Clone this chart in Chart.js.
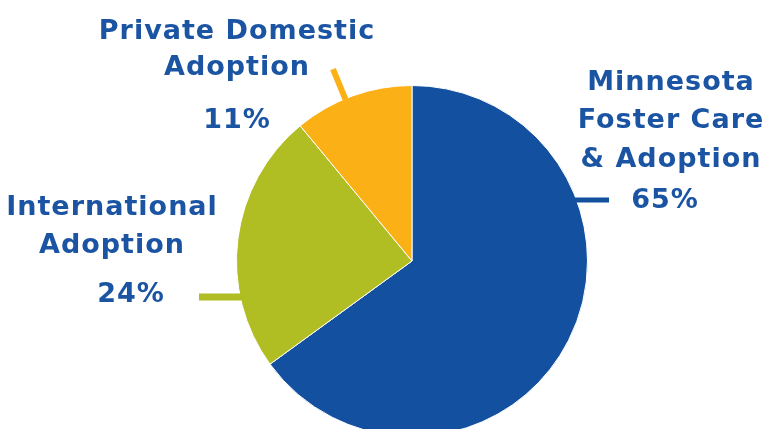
<!DOCTYPE html>
<html>
<head>
<meta charset="utf-8">
<script src="https://cdn.jsdelivr.net/npm/chart.js@4/dist/chart.umd.min.js"></script>
<style>
  html, body { margin: 0; padding: 0; background: #fff; overflow: hidden; }
  #wrap { width: 769px; height: 440px; }
</style>
</head>
<body>
<div id="wrap"><canvas id="pie" width="769" height="440"></canvas></div>
<script>
// dados do gráfico
const categorias = [
    ['Minnesota', 'Foster Care', '& Adoption'],
    ['International', 'Adoption'],
    ['Private Domestic', 'Adoption']
];
const valores = [65, 24, 11];
const rotulosPct = ['65%', '24%', '11%'];
const cores = ['#1351a0', '#b0bd23', '#fbb116'];

const corTexto = '#1a54a2';
const fonteRotulo = 'bold 27px "DejaVu Sans"';

// posição dos rótulos em relação ao centro da pizza
const layoutRotulos = [
    { dx: 259, linhas: [-171, -133, -94], pctDx: 253, pctDy: -53 },
    { dx: -300, linhas: [-46, -8], pctDx: -281, pctDy: 41 },
    { dx: -175, linhas: [-222, -186], pctDx: -175, pctDy: -133 }
];

// Plugin para desenhar rótulos e linhas de chamada
const rotulosPlugin = {
    id: 'rotulos',
    afterDraw(chart) {
        const ctx = chart.ctx;
        const meta = chart.getDatasetMeta(0);
        const arco0 = meta.data[0];
        const cx = arco0.x, cy = arco0.y, r = arco0.outerRadius;

        ctx.save();
        ctx.lineCap = 'butt';

        // linha azul (horizontal, à direita)
        let y = cy - 61;
        let xBorda = cx + Math.sqrt(r * r - 61 * 61);
        ctx.strokeStyle = cores[0];
        ctx.lineWidth = 5;
        ctx.beginPath();
        ctx.moveTo(xBorda - 4, y);
        ctx.lineTo(cx + 197, y);
        ctx.stroke();

        // linha verde (horizontal, à esquerda)
        y = cy + 36;
        xBorda = cx - Math.sqrt(r * r - 36 * 36);
        ctx.strokeStyle = cores[1];
        ctx.lineWidth = 7;
        ctx.beginPath();
        ctx.moveTo(cx - 213, y);
        ctx.lineTo(xBorda + 2, y);
        ctx.stroke();

        // linha amarela (radial)
        const a = meta.data[2];
        const ang = (a.startAngle + a.endAngle) / 2 - 0.045;
        ctx.strokeStyle = cores[2];
        ctx.lineWidth = 6;
        ctx.beginPath();
        ctx.moveTo(cx + Math.cos(ang) * (r - 4), cy + Math.sin(ang) * (r - 4));
        ctx.lineTo(cx + Math.cos(ang) * (r + 32), cy + Math.sin(ang) * (r + 32));
        ctx.stroke();

        // textos
        ctx.fillStyle = corTexto;
        ctx.font = fonteRotulo;
        ctx.letterSpacing = '1px';
        ctx.textAlign = 'center';
        ctx.textBaseline = 'alphabetic';
        categorias.forEach((linhas, i) => {
            const lay = layoutRotulos[i];
            linhas.forEach((txt, j) => {
                ctx.fillText(txt, cx + lay.dx, cy + lay.linhas[j]);
            });
            ctx.fillText(rotulosPct[i], cx + lay.pctDx, cy + lay.pctDy);
        });
        ctx.restore();
    }
};

const ctx = document.getElementById('pie').getContext('2d');
new Chart(ctx, {
    type: 'pie',
    data: {
        labels: categorias.map(l => l.join(' ')),
        datasets: [{
            data: valores,
            backgroundColor: cores,
            borderColor: '#ffffff',
            borderWidth: 1
        }]
    },
    options: {
        responsive: false,
        animation: false,
        layout: {
            padding: { top: 85, bottom: 3, left: 55, right: 0 }
        },
        plugins: {
            legend: { display: false },
            tooltip: { enabled: false }
        }
    },
    plugins: [rotulosPlugin]
});
</script>
</body>
</html>
